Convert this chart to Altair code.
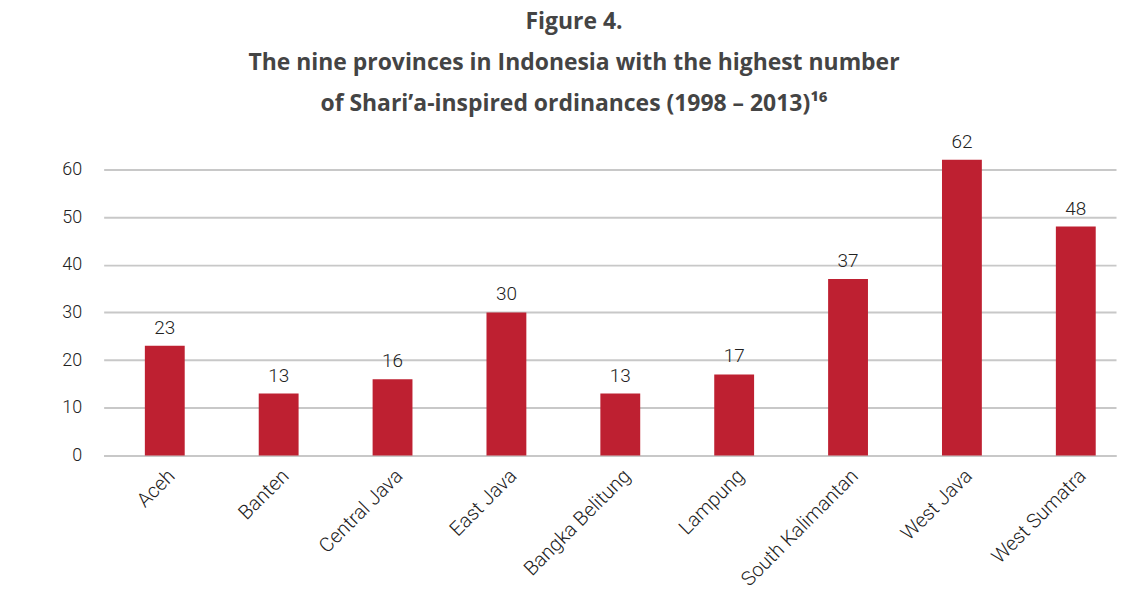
import altair as alt
import pandas as pd

provinces = ["Aceh", "Banten", "Central Java", "East Java", "Bangka Belitung",
             "Lampung", "South Kalimantan", "West Java", "West Sumatra"]
counts = [23, 13, 16, 30, 13, 17, 37, 62, 48]
y_ticks = [0, 10, 20, 30, 40, 50, 60]

df = pd.DataFrame({"province": provinces, "count": counts})

x = alt.X("province:N", sort=provinces, title=None,
          scale=alt.Scale(paddingInner=0.65, paddingOuter=0.27, align=0.67),
          axis=alt.Axis(labelAngle=-45, labelFont="Roboto", labelFontWeight=300,
                        labelFontSize=20, labelColor="#222222", labelPadding=10,
                        ticks=False, domainColor="#c8c8c8", domainWidth=2))
y = alt.Y("count:Q", title=None,
          scale=alt.Scale(domain=[0, 65], nice=False),
          axis=alt.Axis(values=y_ticks, labelFont="Roboto", labelFontWeight=300,
                        labelFontSize=18, labelColor="#222222", labelPadding=22,
                        ticks=False, domain=False, gridColor="#c8c8c8", gridWidth=2))

base = alt.Chart(df).encode(x=x, y=y)
bars = base.mark_bar(color="#be2031")
labels = base.mark_text(baseline="bottom", dy=-8, font="Roboto", fontWeight=300,
                        fontSize=19, color="#222222").encode(text="count:Q")

chart = (bars + labels).properties(
    width=1016, height=311,
    padding={"left": 54, "top": 2, "right": 5, "bottom": 0},
    title=alt.TitleParams(
        text=["Figure 4.",
              "The nine provinces in Indonesia with the highest number",
              "of Shari\u2019a-inspired ordinances (1998 \u2013 2013)\u00b9\u2076"],
        font="Open Sans", fontSize=23, fontWeight="bold", color="#444444",
        lineHeight=41, anchor="middle", offset=17, dx=-36),
).configure_view(stroke=None)

chart.save("out.html", embed_options={"renderer": "svg", "actions": False})
